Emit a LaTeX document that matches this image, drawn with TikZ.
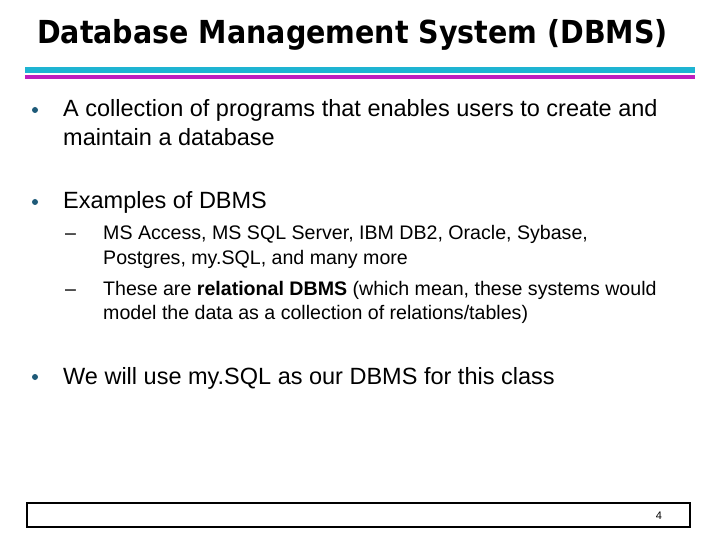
\documentclass[tikz,border=0pt]{standalone}
\usepackage{fontspec}
\setmainfont{Liberation Sans}
\newfontfamily\titlefont{DejaVu Sans Condensed}
\definecolor{barcyan}{RGB}{30,180,210}
\definecolor{barmag}{RGB}{190,30,190}
\definecolor{dotcol}{RGB}{30,90,120}
\tikzset{
  bodytext/.style={anchor=base west, inner sep=0pt, font=\fontsize{23.5}{27}\selectfont},
  subtext/.style={anchor=base west, inner sep=0pt, font=\fontsize{19.6}{23}\selectfont},
  bulletdot/.style={fill=dotcol, draw=none}
}
\begin{document}
\begin{tikzpicture}[x=1pt,y=-1pt]
    \useasboundingbox (0,0) rectangle (720,540);
    
        % title and bars
        \node[anchor=base west, inner sep=0pt, font=\titlefont\bfseries\fontsize{31.7}{35}\selectfont] (title) at (37,44) {Database Management System (DBMS)};
        \fill[barcyan] (25,67) rectangle (695,73);
        \fill[barmag] (25,75) rectangle (695,79);
        
        % first bullet
        \fill[bulletdot] (35,110) circle (3pt);
        \node[bodytext] (b1a) at (63,117) {A collection of programs that enables users to create and};
        \node[bodytext] (b1b) at (63,146) {maintain a database};
        
        % second bullet
        \fill[bulletdot] (35,202) circle (3pt);
        \node[bodytext] (b2) at (63,209) {Examples of DBMS};
        
        \node[subtext] (d1) at (65,240) {--};
        \node[subtext] (s1a) at (103,240) {MS Access, MS SQL Server, IBM DB2, Oracle, Sybase,};
        \node[subtext] (s1b) at (103,264) {Postgres, my.SQL, and many more};
        
        \node[subtext] (d2) at (65,295) {--};
        \node[subtext] (s2a) at (103,295) {These are \textbf{relational DBMS} (which mean, these systems would};
        \node[subtext] (s2b) at (103,319) {model the data as a collection of relations/tables)};
        
        % third bullet
        \fill[bulletdot] (35,377) circle (3pt);
        \node[bodytext] (b3) at (63,384) {We will use my.SQL as our DBMS for this class};
        
        % footer box
        \draw[black, line width=1.5pt] (27,503) rectangle (690,527);
        \node[anchor=base, inner sep=0pt, font=\fontsize{11}{13}\selectfont] (page) at (659,519) {4};
        
\end{tikzpicture}
\end{document}
